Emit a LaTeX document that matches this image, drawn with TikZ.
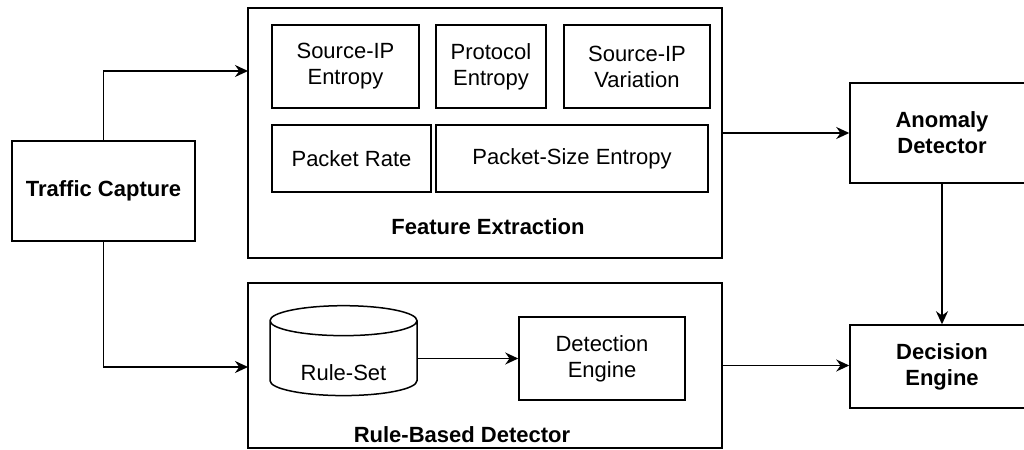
\documentclass[tikz,border=0pt]{standalone}
\usepackage{fontspec}
\setmainfont{Liberation Sans}
\usetikzlibrary{shapes.geometric,arrows.meta}

\begin{document}
\begin{tikzpicture}[x=0.5pt, y=-0.5pt, line width=0.75pt,
		box/.style={draw, inner sep=0pt, align=center, font=\fontsize{11pt}{13pt}\selectfont},
		bbox/.style={box, font=\fontsize{11pt}{13pt}\selectfont\bfseries},
		lbl/.style={font=\fontsize{11pt}{13pt}\selectfont\bfseries},
		arr/.style={-{Stealth[length=6.5pt, width=6pt]}}]
		
		\useasboundingbox (0, 0) rectangle (1024, 450);
		
		% outer boxes
		\node [bbox, minimum width=91.5pt, minimum height=50pt] (capture) at (103.5, 191) {Traffic Capture};
		\node [box, minimum width=237pt, minimum height=125pt] (feat) at (485, 133) {};
		\node [box, minimum width=237pt, minimum height=82.5pt] (rbd) at (485, 365.5) {};
		\node [bbox, minimum width=92pt, minimum height=50pt] (anom) at (942, 133) {Anomaly\\Detector};
		\node [bbox, minimum width=92pt, minimum height=41.5pt] (dec) at (942, 366.5) {Decision\\Engine};
		
		% features
		\node [box, minimum width=73.5pt, minimum height=41.5pt] (srcent) at (345.5, 66.5) {Source-IP\\Entropy};
		\node [box, minimum width=55pt, minimum height=41.5pt] (protent) at (491, 66.5) {Protocol\\Entropy};
		\node [box, minimum width=73pt, minimum height=41.5pt] (srcvar) at (637, 66.5) {Source-IP\\Variation};
		\node [box, minimum width=79.5pt, minimum height=33.5pt] (pktrate) at (351.5, 158.5) {Packet Rate};
		\node [box, minimum width=136pt, minimum height=33.5pt] (pktsize) at (572, 158.5) {Packet-Size Entropy};
		\node [lbl] (featlbl) at (488, 227) {Feature Extraction};
		
		% rules
		\node [box, cylinder, shape border rotate=90, aspect=0.35, text height=22pt, minimum width=73.5pt, minimum height=41.5pt] (ruleset) at (343.5, 358.5) {Rule-Set};
		\node [box, minimum width=83pt, minimum height=41.5pt] (deteng) at (602, 358.5) {Detection\\Engine};
		\node [lbl] (rbdlbl) at (462, 435) {Rule-Based Detector};
		
		\coordinate (featin) at (248, 71);
		\coordinate (rbdin) at (248, 367);
		
		\draw [arr] (capture.north) |- (featin);
		\draw [arr] (capture.south) |- (rbdin);
		\draw [arr] (feat.east) -- (anom.west);
		\draw [arr] (ruleset.east) -- (ruleset.east -| deteng.west);
		\draw [arr] (rbd.east) -- (rbd.east -| dec.west);
		\draw [arr] (anom.south) -- (dec.north);
		
\end{tikzpicture}
\end{document}
